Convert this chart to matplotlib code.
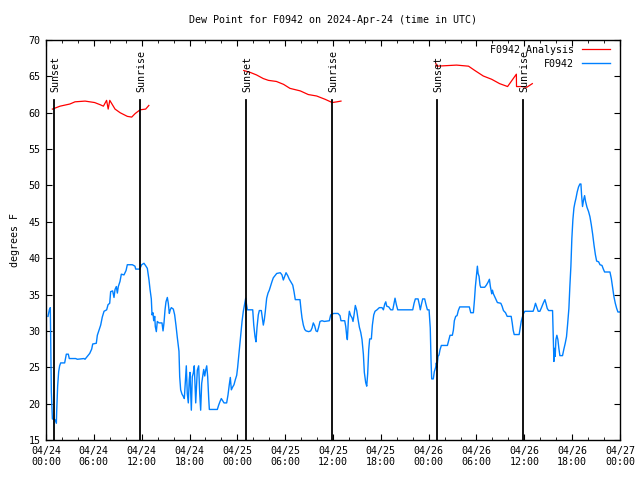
import matplotlib
matplotlib.use("Agg")
from matplotlib import pyplot as plt
import numpy as np

plt.rcParams['font.family'] = ['DejaVu Sans Mono']
plt.rcParams['font.size'] = 7.2

# hours after 2024-04-24 00:00 UTC
obs_hours = [
    0.25, 0.42, 0.54, 0.59, 0.67, 0.80, 1.13, 1.30, 1.34, 1.46, 1.59, 1.71, 1.84, 2.34, 2.55, 2.80,
    2.92, 3.72, 3.93, 4.77, 4.89, 5.18, 5.48, 5.73, 5.86, 6.31, 6.44, 6.65, 6.86, 7.06, 7.28, 7.61,
    7.78, 7.99, 8.11, 8.36, 8.53, 8.66, 8.82, 8.95, 9.07, 9.28, 9.45, 9.78, 10.04, 10.20, 10.83, 11.16,
    11.25, 11.75, 11.88, 12.00, 12.29, 12.54, 12.71, 12.92, 13.05, 13.21, 13.30, 13.42, 13.51, 13.64,
    13.71, 13.84, 13.96, 14.17, 14.55, 14.68, 14.80, 14.93, 15.05, 15.22, 15.34, 15.47, 15.59, 15.72,
    15.97, 16.14, 16.31, 16.47, 16.68, 16.77, 16.89, 17.06, 17.22, 17.35, 17.47, 17.60, 17.72, 17.85,
    17.97, 18.06, 18.23, 18.35, 18.48, 18.60, 18.78, 18.86, 18.98, 19.15, 19.28, 19.40, 19.53, 19.66,
    19.78, 19.91, 20.03, 20.16, 20.28, 20.41, 20.49, 21.49, 21.66, 21.83, 21.99, 22.16, 22.33, 22.66,
    22.83, 22.99, 23.12, 23.25, 23.42, 23.58, 23.75, 23.92, 24.04, 24.25, 24.42, 24.59, 24.75, 24.93,
    25.05, 25.13, 25.26, 25.93, 26.06, 26.22, 26.34, 26.47, 26.63, 26.76, 27.01, 27.13, 27.26, 27.38,
    27.51, 27.68, 27.85, 28.01, 28.18, 28.35, 28.51, 28.73, 28.94, 29.39, 29.60, 29.77, 29.94, 30.11,
    30.32, 30.52, 30.74, 30.95, 31.11, 31.27, 31.86, 31.99, 32.11, 32.28, 32.45, 32.62, 32.95, 33.20,
    33.37, 33.53, 33.70, 33.87, 34.04, 34.20, 34.37, 34.62, 34.91, 35.54, 35.71, 35.88, 36.09, 36.63,
    36.88, 37.00, 37.47, 37.60, 37.72, 37.80, 37.93, 38.05, 38.22, 38.39, 38.51, 38.64, 38.80, 38.98,
    39.14, 39.31, 39.48, 39.64, 39.81, 39.93, 40.10, 40.23, 40.35, 40.48, 40.60, 40.81, 40.94, 41.11,
    41.27, 41.52, 41.81, 42.15, 42.32, 42.49, 42.62, 42.74, 42.99, 43.24, 43.50, 43.66, 43.78, 43.95,
    44.12, 46.00, 46.17, 46.33, 46.67, 46.83, 46.95, 47.08, 47.25, 47.50, 47.67, 47.84, 48.05, 48.20,
    48.30, 48.38, 48.58, 48.71, 48.88, 48.96, 49.05, 49.17, 49.30, 49.42, 49.59, 50.35, 50.56, 50.68,
    50.97, 51.10, 51.22, 51.39, 51.56, 51.72, 51.90, 53.10, 53.28, 53.61, 53.74, 53.86, 53.99, 54.11,
    54.20, 54.32, 54.44, 54.53, 55.03, 55.24, 55.45, 55.62, 55.74, 55.83, 55.91, 56.00, 56.12, 56.29,
    56.46, 56.62, 57.05, 57.21, 57.38, 57.64, 57.85, 58.35, 58.48, 58.60, 58.73, 59.35, 59.48, 59.61,
    59.73, 59.90, 60.07, 61.10, 61.23, 61.40, 61.52, 61.74, 61.95, 62.15, 62.37, 62.58, 62.71, 62.87,
    63.04, 63.54, 63.62, 63.71, 63.79, 63.87, 63.96, 64.08, 64.21, 64.33, 64.46, 64.79, 64.96, 65.13,
    65.29, 65.42, 65.59, 65.71, 65.84, 65.96, 66.09, 66.22, 66.34, 66.47, 66.63, 66.80, 66.97, 67.10,
    67.18, 67.30, 67.43, 67.56, 67.68, 67.86, 68.06, 68.23, 68.40, 68.57, 68.74, 68.91, 69.07, 69.32,
    69.49, 69.74, 69.91, 70.07, 70.74, 70.91, 71.08, 71.24, 71.41, 71.58, 71.74, 72.00,
]
obs_dewpt = [
    32.0, 32.9, 33.2, 28.8, 21.6, 17.9, 17.8, 17.3, 18.9, 22.4, 24.4, 25.2, 25.6, 25.6, 26.8, 26.8,
    26.2, 26.2, 26.1, 26.2, 26.1, 26.5, 26.9, 27.5, 28.2, 28.3, 29.4, 30.1, 30.8, 31.9, 32.7, 32.9,
    33.6, 33.8, 35.4, 35.5, 34.6, 35.7, 36.1, 35.2, 36.1, 36.8, 37.8, 37.7, 38.3, 39.1, 39.1, 38.9,
    38.5, 38.5, 38.8, 39.1, 39.3, 38.9, 38.6, 37.0, 35.7, 34.4, 32.2, 32.5, 31.4, 32.0,
    30.6, 29.9, 31.3, 31.1, 31.1, 30.0, 31.1, 32.9, 34.0, 34.6, 33.8, 32.4, 32.9, 33.2,
    33.0, 32.2, 30.7, 29.1, 27.2, 23.7, 21.9, 21.3, 21.0, 20.7, 22.8, 25.2, 21.4, 20.1,
    23.3, 24.3, 19.1, 23.7, 24.2, 25.2, 20.1, 21.9, 24.6, 25.2, 21.4, 19.1, 22.8, 23.8,
    24.7, 23.8, 24.6, 25.2, 23.7, 20.7, 19.2, 19.2, 19.8, 20.3, 20.7, 20.4, 20.1, 20.1,
    21.2, 22.6, 23.6, 21.9, 22.3, 22.6, 23.3, 23.9, 25.0, 27.4, 29.5, 31.3, 32.7, 33.8,
    34.5, 33.8, 32.9, 32.9, 30.8, 29.2, 28.5, 30.5, 32.2, 32.8, 32.8, 31.8, 30.8, 31.5,
    32.7, 34.5, 35.2, 35.6, 36.2, 36.8, 37.3, 37.6, 37.9, 38.0, 37.7, 37.0, 37.5, 38.0,
    37.6, 37.1, 36.7, 36.3, 35.4, 34.3, 34.3, 32.9, 31.8, 30.8, 30.2, 30.0, 29.9, 30.0,
    30.4, 31.1, 30.7, 30.0, 29.9, 30.5, 31.3, 31.4, 31.3, 31.4, 32.2, 32.3, 32.4, 32.4,
    32.1, 31.4, 31.4, 30.6, 29.3, 28.8, 31.5, 32.7, 32.1, 31.8, 31.3, 32.2, 33.5, 32.8,
    31.6, 30.5, 29.8, 28.8, 26.8, 24.3, 22.9, 22.4, 24.1, 27.4, 28.9, 28.9, 30.8, 32.2,
    32.7, 32.9, 33.2, 33.2, 32.9, 33.7, 34.0, 33.4, 33.3, 32.9, 32.9, 33.8, 34.5, 33.6,
    32.9, 32.9, 33.8, 34.4, 34.4, 33.6, 32.9, 33.6, 34.4, 34.4, 33.6, 32.9, 32.9, 30.4,
    25.8, 23.4, 23.4, 24.4, 25.0, 25.6, 25.0, 26.5, 26.7, 27.4, 28.0, 28.0, 28.9, 29.4,
    29.4, 30.1, 31.4, 32.0, 32.1, 32.8, 33.3, 33.3, 32.5, 32.5, 34.2, 36.1, 37.6, 38.9,
    37.9, 37.5, 36.3, 36.0, 36.0, 36.3, 36.7, 37.1, 36.1, 35.6, 35.1, 35.6, 35.1, 34.7,
    34.3, 33.9, 33.8, 33.4, 32.8, 32.5, 32.0, 32.0, 31.1, 30.1, 29.5, 29.5, 30.4, 31.3,
    31.8, 32.4, 32.7, 32.7, 33.1, 33.8, 33.4, 32.7, 32.7, 33.2, 33.8, 34.3, 33.8, 33.1,
    32.8, 32.8, 29.4, 25.8, 27.6, 26.5, 28.8, 29.4, 28.8, 27.6, 26.6, 26.6, 27.5, 28.3,
    29.2, 30.8, 33.1, 36.1, 38.9, 42.7, 45.3, 46.9, 47.6, 48.2, 49.1, 49.8, 50.2, 50.2,
    48.7, 47.1, 48.0, 48.6, 47.8, 47.0, 46.4, 45.7, 44.6, 43.3, 41.8, 40.5, 39.6, 39.5,
    39.1, 39.0, 38.5, 38.1, 38.1, 37.2, 35.9, 34.7, 33.8, 33.1, 32.6, 32.6,
]

# analysis, one night at a time
ana1_hours = [0.8, 1.76, 3.0, 3.64, 4.9, 6.1, 6.8, 7.2, 7.6, 7.8, 8.0, 8.66, 9.3, 10.2, 10.75, 11.2, 11.8, 12.5, 12.9]
ana1_dewpt = [60.5, 60.9, 61.2, 61.5, 61.6, 61.4, 61.1, 60.9, 61.7, 60.5, 61.7, 60.5, 60.0, 59.5, 59.4, 59.9, 60.4, 60.5, 61.0]
ana2_hours = [24.8, 25.6, 26.4, 27.25, 27.9, 28.9, 29.8, 30.6, 31.9, 32.9, 33.95, 35.0, 35.9, 36.5, 37.0]
ana2_dewpt = [65.8, 65.55, 65.2, 64.7, 64.45, 64.3, 63.9, 63.35, 63.0, 62.5, 62.3, 61.85, 61.4, 61.5, 61.6]
ana3_hours = [48.9, 49.0, 51.5, 53.0, 53.8, 54.85, 55.9, 56.9, 57.9, 59.0, 59.02, 59.65, 60.3, 61.0]
ana3_dewpt = [66.8, 66.4, 66.55, 66.4, 65.8, 65.05, 64.6, 64.0, 63.6, 65.3, 63.6, 63.6, 63.5, 64.0]

sunset_hours = [1.0, 25.1, 49.05]
sunrise_hours = [11.8, 35.88, 59.84]

tick_labels = ['04/24\n00:00', '04/24\n06:00', '04/24\n12:00', '04/24\n18:00',
               '04/25\n00:00', '04/25\n06:00', '04/25\n12:00', '04/25\n18:00',
               '04/26\n00:00', '04/26\n06:00', '04/26\n12:00', '04/26\n18:00',
               '04/27\n00:00']

fig = plt.figure(figsize=(6.4, 4.8), dpi=100)
ax = fig.add_axes([46 / 640, 40 / 480, 574 / 640, 400 / 480])

ax.plot(ana1_hours, ana1_dewpt, color='#ff0000', lw=0.9, label='F0942 Analysis')
ax.plot(ana2_hours, ana2_dewpt, color='#ff0000', lw=0.9)
ax.plot(ana3_hours, ana3_dewpt, color='#ff0000', lw=0.9)
ax.plot(obs_hours, obs_dewpt, color='#0080ff', lw=1.0, label='F0942')

for h in sunset_hours:
    ax.plot([h, h], [15, 61.75], color='black', lw=1.3)
    ax.text(h + 0.2, 62.8, 'Sunset', rotation=90, ha='center', va='bottom')
for h in sunrise_hours:
    ax.plot([h, h], [15, 61.75], color='black', lw=1.3)
    ax.text(h + 0.2, 62.8, 'Sunrise', rotation=90, ha='center', va='bottom')

ax.set_xlim(0, 72)
ax.set_ylim(15, 70)
ax.set_xticks(np.arange(0, 73, 6))
ax.set_xticklabels(tick_labels)
ax.set_xticks(np.arange(0, 73, 2), minor=True)
ax.set_yticks(np.arange(15, 71, 5))
ax.tick_params(which='both', direction='in', top=True, right=True, colors='black')
ax.tick_params(which='major', length=4, pad=4)
ax.tick_params(which='minor', length=2.5)
for s in ax.spines.values():
    s.set_linewidth(1.0)

ax.set_ylabel('degrees F', labelpad=6)
ax.set_title('Dew Point for F0942 on 2024-Apr-24 (time in UTC)', fontsize=7.2, pad=12)

ax.legend(loc='upper right', bbox_to_anchor=(1.0, 1.013), frameon=False, markerfirst=False,
          handlelength=2.8, borderaxespad=0.6, labelspacing=0.4, handletextpad=0.8)

fig.savefig('out.png', dpi=100)
